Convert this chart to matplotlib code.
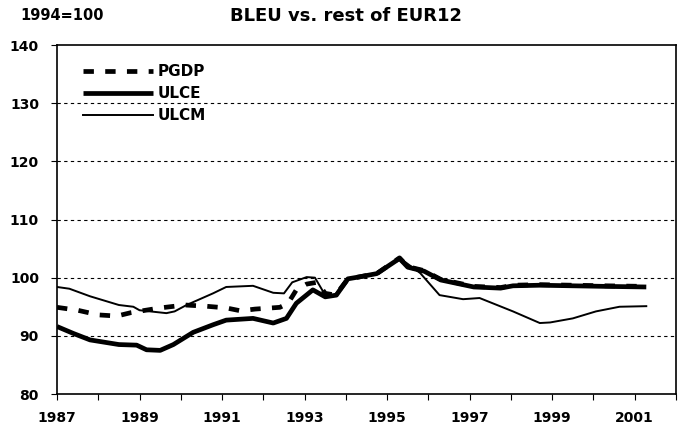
import matplotlib
matplotlib.use("Agg")
import matplotlib.pyplot as plt

# values (1994=100)
pgdp_x = [1987.0, 1987.5, 1988.0, 1988.45, 1988.8, 1989.5, 1990.1, 1990.6, 1991.1, 1991.45,
          1991.8, 1992.4, 1992.6, 1992.8, 1993.05, 1993.3, 1993.5, 1993.75, 1994.05, 1994.3,
          1994.75, 1995.3, 1995.5, 1995.9, 1996.3, 1996.7, 1997.1, 1997.75, 1998.05, 1998.7,
          1999.5, 2000.3, 2001.28]
pgdp = [94.9, 94.4, 93.6, 93.4, 94.0, 94.8, 95.3, 95.1, 94.8, 94.3,
        94.6, 94.9, 95.6, 97.9, 98.9, 99.2, 97.3, 97.0, 99.8, 100.1,
        100.7, 103.4, 101.9, 101.2, 99.7, 99.1, 98.5, 98.3, 98.7, 98.8,
        98.7, 98.6, 98.5]

ulce_x = [1987.0, 1987.4, 1987.8, 1988.5, 1988.93, 1989.17, 1989.5, 1989.82, 1990.3, 1990.78,
          1991.1, 1991.75, 1992.24, 1992.56, 1992.8, 1993.2, 1993.5, 1993.77, 1994.05, 1994.3,
          1994.75, 1995.3, 1995.5, 1995.9, 1996.3, 1996.7, 1997.1, 1997.75, 1998.05, 1998.7,
          1999.5, 2000.3, 2001.28]
ulce = [91.6, 90.4, 89.3, 88.5, 88.4, 87.6, 87.5, 88.5, 90.6, 91.9,
        92.7, 93.0, 92.2, 93.0, 95.6, 97.9, 96.7, 97.0, 99.8, 100.1,
        100.7, 103.3, 101.8, 101.1, 99.6, 99.0, 98.4, 98.2, 98.6, 98.7,
        98.6, 98.5, 98.4]

ulcm_x = [1987.0, 1987.3, 1987.8, 1988.5, 1988.85, 1989.0, 1989.65, 1989.85, 1990.14, 1990.78,
          1991.1, 1991.75, 1992.24, 1992.5, 1992.7, 1993.05, 1993.25, 1993.5, 1993.73, 1994.0,
          1994.26, 1994.75, 1995.3, 1995.8, 1996.27, 1996.84, 1997.24, 1998.05, 1998.7, 1998.95,
          1999.5, 2000.06, 2000.63, 2001.28]
ulcm = [98.4, 98.1, 96.8, 95.3, 95.0, 94.4, 93.9, 94.2, 95.3, 97.3,
        98.4, 98.6, 97.4, 97.3, 99.2, 100.1, 100.0, 97.0, 97.0, 99.6,
        100.1, 100.7, 103.4, 100.8, 97.0, 96.3, 96.5, 94.2, 92.2, 92.3,
        93.0, 94.2, 95.0, 95.1]

year_ticks = list(range(1987, 2003))
year_labels = [str(y) if (y - 1987) % 2 == 0 and y < 2002 else "" for y in year_ticks]
y_ticks = [80, 90, 100, 110, 120, 130, 140]

plt.rcParams['font.family'] = ['DejaVu Sans']

fig = plt.figure(figsize=(6.84, 4.28), dpi=100)
ax = fig.add_axes([57 / 684, 1 - 394 / 428, (676 - 57) / 684, (394 - 45) / 428])

ax.plot(ulcm_x, ulcm, color='black', lw=1.4, label='ULCM', zorder=3)
ax.plot(ulce_x, ulce, color='black', lw=3.4, label='ULCE', zorder=4,
        solid_capstyle='butt')
ax.plot(pgdp_x, pgdp, color='black', lw=3.4, ls=(0, (2.2, 2.4)), label='PGDP', zorder=5)

ax.set_xlim(1987, 2002)
ax.set_ylim(80, 140)
ax.set_xticks(year_ticks)
ax.set_xticklabels(year_labels, fontsize=10, fontweight='bold')
ax.set_yticks(y_ticks)
ax.set_yticklabels([str(v) for v in y_ticks], fontsize=10, fontweight='bold')
ax.tick_params(axis='both', direction='out', length=4, width=0.8)
ax.tick_params(axis='x', pad=8)
ax.tick_params(axis='y', pad=9)

for v in y_ticks[1:-1]:
    ax.axhline(v, color='black', lw=0.8, ls=(0, (3, 3)), zorder=1)

for s in ax.spines.values():
    s.set_linewidth(1.2)

handles, labels = ax.get_legend_handles_labels()
order = [2, 1, 0]
leg = ax.legend([handles[i] for i in order], [labels[i] for i in order],
                loc='upper left', bbox_to_anchor=(0.025, 0.975), frameon=False,
                fontsize=11, handlelength=4.6, handletextpad=0.25, labelspacing=0.45,
                borderaxespad=0.3)
for t in leg.get_texts():
    t.set_fontweight('bold')

fig.text(20 / 684, 1 - 15 / 428, "1994=100", fontsize=10.5, fontweight='bold', va='center')
fig.text(346 / 684, 1 - 16 / 428, "BLEU vs. rest of EUR12", fontsize=13,
         fontweight='bold', ha='center', va='center')

fig.savefig("out.png", dpi=100)
